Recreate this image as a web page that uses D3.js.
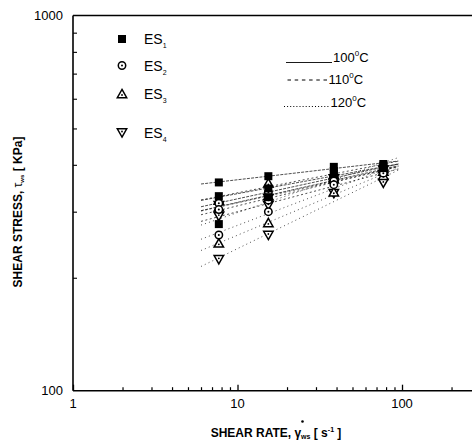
<!DOCTYPE html>
<html>
<head>
<meta charset="utf-8">
<script src="https://cdn.jsdelivr.net/npm/d3@7"></script>
<style>
  html, body { margin: 0; padding: 0; background: #fff; }
  svg { display: block; font-family: "Liberation Sans", Arial, sans-serif; }
</style>
</head>
<body>
<svg id="chart" width="472" height="442"></svg>
<script>
// Wall shear stress vs. apparent shear rate, samples ES1–ES4 at three temperatures
const shearRates = [7.7, 15.4, 38.5, 77];          // s^-1
const samples = ["ES1", "ES2", "ES3", "ES4"];
const temperatures = ["100", "110", "120"];          // °C
// shear stress [kPa]; rows: 100, 110, 120 °C
const es1Stress = [[359, 373, 395, 402], [330, 346, 385, 398], [278, 328, 378, 392]];
const es2Stress = [[316, 338, 372, 392], [304, 322, 362, 386], [260, 300, 354, 380]];
const es3Stress = [[321, 357, 376, 390], [308, 330, 366, 384], [247, 280, 338, 374]];
const es4Stress = [[312, 326, 368, 388], [292, 312, 356, 378], [224, 260, 336, 358]];
const fitRange = [6, 95];                            // shear-rate span of power-law fits
const xTicks = [1, 10, 100];
const yTicks = [100, 1000];

const stressBySample = [es1Stress, es2Stress, es3Stress, es4Stress];

const svg = d3.select("#chart");
const x = d3.scaleLog().domain([1, 300]).range([73, 480.5]);
const y = d3.scaleLog().domain([100, 1000]).range([390.7, 15.5]);

// frame: left, bottom, top
const g = svg.append("g");
g.append("line").attr("x1", x(1)).attr("x2", 472).attr("y1", y(1000)).attr("y2", y(1000))
  .attr("stroke", "#000").attr("stroke-width", 1.6);
g.append("line").attr("x1", x(1)).attr("x2", 472).attr("y1", y(100)).attr("y2", y(100))
  .attr("stroke", "#000").attr("stroke-width", 1.6);
g.append("line").attr("x1", x(1)).attr("x2", x(1)).attr("y1", y(1000)).attr("y2", y(100))
  .attr("stroke", "#000").attr("stroke-width", 1.6);

// x ticks (inward)
const xMinor = [];
for (let d = 1; d <= 100; d *= 10) for (let k = 2; k <= 9; k++) if (d * k <= 300) xMinor.push(d * k);
const xAxis = d3.axisBottom(x).tickValues(xMinor).tickSize(-3.5).tickFormat("");
const xa = svg.append("g").attr("transform", `translate(0,${y(100)})`).call(xAxis);
xa.select(".domain").remove();
xa.selectAll(".tick line").attr("stroke-width", 1.2);
const xMajor = d3.axisBottom(x).tickValues(xTicks).tickSize(-6).tickFormat("");
const xb = svg.append("g").attr("transform", `translate(0,${y(100)})`).call(xMajor);
xb.select(".domain").remove();
xb.selectAll(".tick line").attr("stroke-width", 1.3);
svg.append("g").selectAll("text").data(xTicks).join("text")
  .attr("x", d => x(d)).attr("y", 408).attr("text-anchor", "middle")
  .attr("font-size", 13).text(d => d);

// y ticks (inward)
const yMinor = d3.range(2, 10).map(k => k * 100);
const yAxis = d3.axisLeft(y).tickValues(yMinor).tickSize(-4).tickFormat("");
const ya = svg.append("g").attr("transform", `translate(${x(1)},0)`).call(yAxis);
ya.select(".domain").remove();
ya.selectAll(".tick line").attr("stroke-width", 1.1);
svg.append("g").selectAll("text").data(yTicks).join("text")
  .attr("x", 63).attr("y", d => y(d) + 4.5).attr("text-anchor", "end")
  .attr("font-size", 13).text(d => d);

// axis titles
const xt = svg.append("text").attr("x", 276).attr("y", 437).attr("text-anchor", "middle")
  .attr("font-size", 12).attr("font-weight", "bold");
xt.append("tspan").text("SHEAR RATE, ");
xt.append("tspan").text("γ");
xt.append("tspan").attr("font-size", 7).attr("dy", 2).text("ws");
xt.append("tspan").attr("dy", -2).text(" [ s");
xt.append("tspan").attr("font-size", 7).attr("dy", -5).text("-1");
xt.append("tspan").attr("dy", 5).text(" ]");
// dot over gamma
svg.append("circle").attr("cx", 302.5).attr("cy", 421.5).attr("r", 1.3).attr("fill", "#000");

const yt = svg.append("text").attr("transform", "translate(22,212) rotate(-90)")
  .attr("text-anchor", "middle").attr("font-size", 12).attr("font-weight", "bold");
yt.append("tspan").text("SHEAR STRESS,  ");
yt.append("tspan").attr("font-weight", "normal").text("τ");
yt.append("tspan").attr("font-size", 6).attr("dy", 2).text("ws");
yt.append("tspan").attr("dy", -2).text("  [ KPa]");

// power-law fit lines (least squares in log-log space)
const dashes = ["3,1.2", "2,2.5", "1,3.2"];
function fit(vals) {
  const lx = shearRates.map(Math.log10), ly = vals.map(Math.log10);
  const mx = d3.mean(lx), my = d3.mean(ly);
  const b = d3.sum(lx, (v, i) => (v - mx) * (ly[i] - my)) / d3.sum(lx, v => (v - mx) ** 2);
  const a = my - b * mx;
  return r => Math.pow(10, a + b * Math.log10(r));
}
const lineGen = d3.line().x(d => x(d[0])).y(d => y(d[1]));
const fitLayer = svg.append("g");
stressBySample.forEach(rows => {
  rows.forEach((vals, ti) => {
    const f = fit(vals);
    fitLayer.append("path")
      .attr("d", lineGen(fitRange.map(r => [r, f(r)])))
      .attr("fill", "none").attr("stroke", "#222").attr("stroke-width", 0.8)
      .attr("stroke-dasharray", dashes[ti]);
  });
});

// marker shapes
function drawMarker(sel, si, cx, cy) {
  if (si === 0) {
    sel.append("rect").attr("x", cx - 4).attr("y", cy - 4).attr("width", 8).attr("height", 8)
      .attr("fill", "#000");
  } else if (si === 1) {
    sel.append("circle").attr("cx", cx).attr("cy", cy).attr("r", 3.7)
      .attr("fill", "#fff").attr("stroke", "#000").attr("stroke-width", 1.5);
    sel.append("circle").attr("cx", cx).attr("cy", cy).attr("r", 1).attr("fill", "#000");
  } else if (si === 2) {
    sel.append("path").attr("d", `M${cx},${cy - 4.6}L${cx + 4.7},${cy + 3.7}L${cx - 4.7},${cy + 3.7}Z`)
      .attr("fill", "#fff").attr("stroke", "#000").attr("stroke-width", 1.5);
    sel.append("circle").attr("cx", cx).attr("cy", cy + 1).attr("r", 0.9).attr("fill", "#000");
  } else {
    sel.append("path").attr("d", `M${cx},${cy + 4.6}L${cx + 4.7},${cy - 3.7}L${cx - 4.7},${cy - 3.7}Z`)
      .attr("fill", "#fff").attr("stroke", "#000").attr("stroke-width", 1.5);
    sel.append("circle").attr("cx", cx).attr("cy", cy - 1).attr("r", 0.9).attr("fill", "#000");
  }
}

const pts = svg.append("g");
[3, 2, 1, 0].forEach(si => {
  stressBySample[si].forEach(vals => {
    vals.forEach((v, i) => drawMarker(pts, si, x(shearRates[i]), y(v)));
  });
});

// sample legend
const legY = [39, 65.5, 94, 132.5];
const leg = svg.append("g");
samples.forEach((s, i) => {
  drawMarker(leg, i, 122, legY[i]);
  const t = leg.append("text").attr("x", 144).attr("y", legY[i] + 5).attr("font-size", 14);
  t.append("tspan").text(s.slice(0, 2));
  t.append("tspan").attr("font-size", 7).attr("dy", 4).text(s.slice(2));
});

// temperature legend
const tLeg = svg.append("g");
const tY = [62, 84, 107];
tLeg.append("line").attr("x1", 286).attr("x2", 332).attr("y1", tY[0] + 0.5).attr("y2", tY[0] + 0.5)
  .attr("stroke", "#000").attr("stroke-width", 0.9);
tLeg.append("line").attr("x1", 287.5).attr("x2", 328).attr("y1", tY[1] - 4).attr("y2", tY[1] - 4)
  .attr("stroke", "#000").attr("stroke-width", 1).attr("stroke-dasharray", "3.5,3.7");
tLeg.append("line").attr("x1", 284).attr("x2", 330).attr("y1", tY[2] - 0.5).attr("y2", tY[2] - 0.5)
  .attr("stroke", "#000").attr("stroke-width", 1).attr("stroke-dasharray", "1,2.1");
const tX = [333, 328.5, 330.5];
temperatures.forEach((t, i) => {
  const tx = tLeg.append("text").attr("x", tX[i]).attr("y", tY[i]).attr("font-size", 13);
  tx.append("tspan").text(t);
  tx.append("tspan").attr("font-size", 8).attr("dy", -6).text("0");
  tx.append("tspan").attr("dy", 6).text("C");
});
</script>
</body>
</html>
